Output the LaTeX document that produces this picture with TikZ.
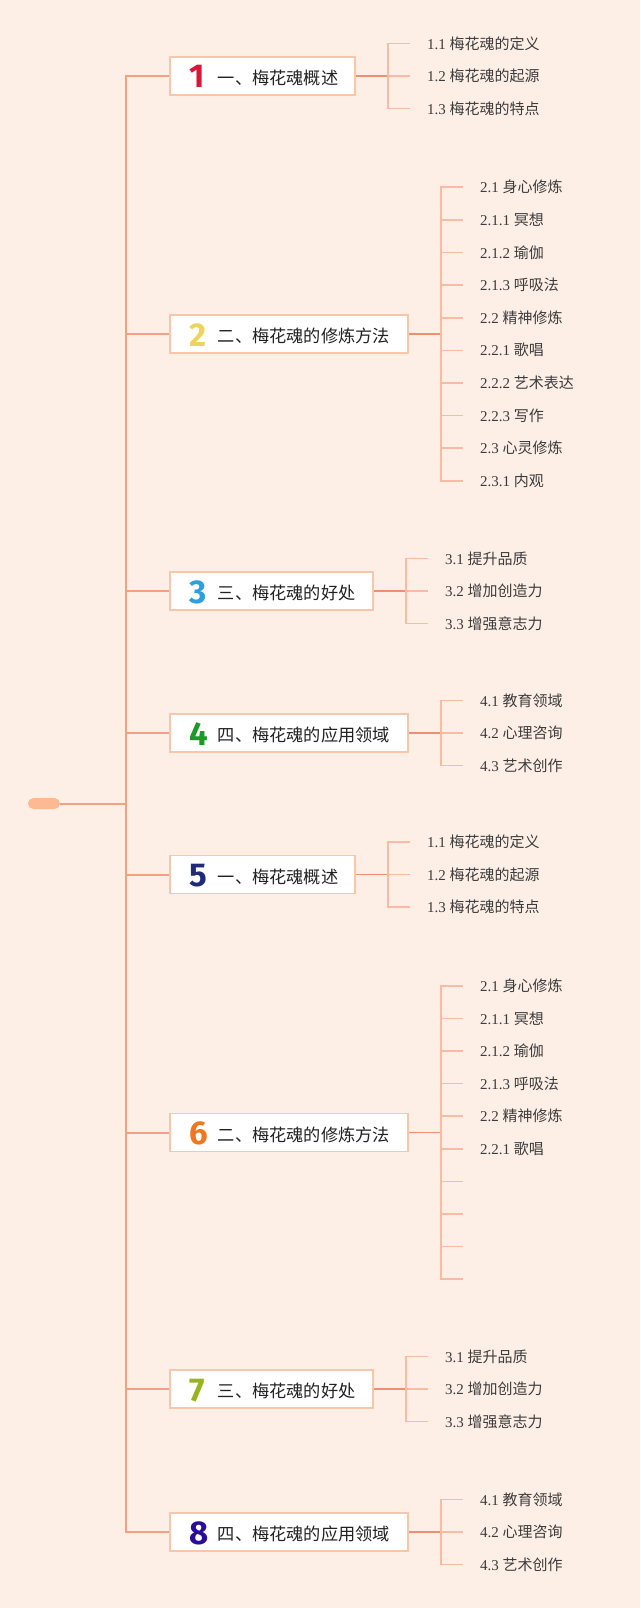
\documentclass[tikz,border=0pt]{standalone}
\usepackage{fontspec}
\usepackage{xcolor}
\usepackage{tikz}
\setmainfont{Liberation Serif}
\newfontfamily\cjk{Noto Sans CJK SC}
\newfontfamily\numfont{Fira Sans}
\definecolor{MMBack}{HTML}{FDEFE6}
\definecolor{MMTrunk}{HTML}{F4A183}
\definecolor{MMLink}{HTML}{F28E70}
\definecolor{MMTick}{HTML}{F9BBA3}
\definecolor{MMBorder}{HTML}{F9C6A8}
\definecolor{MMRoot}{HTML}{FDBA92}
\definecolor{MMText}{HTML}{222222}
\definecolor{MMLeaf}{HTML}{3C3C3C}
\definecolor{NumA}{HTML}{D8173A}
\definecolor{NumB}{HTML}{EED45E}
\definecolor{NumC}{HTML}{2C9FDC}
\definecolor{NumD}{HTML}{1B9A2A}
\definecolor{NumE}{HTML}{1F2A78}
\definecolor{NumF}{HTML}{F2761D}
\definecolor{NumG}{HTML}{97B41C}
\definecolor{NumH}{HTML}{2A0E9A}
\newcommand\tnum[2]{\noindent\hspace*{20pt}\makebox[28pt][l]{\raisebox{-3.5pt}{\numfont\bfseries\fontsize{33}{33}\selectfont\color{#1}#2}}}
\def\gap{32.6}

\begin{document}
\begin{tikzpicture}[x=1pt,y=-1pt,
  trunk/.style={MMTrunk,line width=2pt},
  link/.style={MMLink,line width=1.6pt},
  tick/.style={MMTick,line width=1.6pt},
  topic/.style={draw=MMBorder,line width=1.8pt,fill=white,anchor=west,
    minimum height=38pt,inner xsep=0pt,inner ysep=0pt,align=left,
    text height=23pt,text depth=6pt,
    font=\cjk\fontsize{17.2}{20}\selectfont,text=MMText},
  leaf/.style={anchor=west,inner xsep=17pt,inner ysep=0pt,
    font=\fontsize{15}{18}\selectfont,text=MMLeaf}]
\path[use as bounding box] (0,0) rectangle (640,1608);
\fill[MMBack] (0,0) rectangle (640,1608);

% root and trunk
\node[fill=MMRoot,rounded corners=5.5pt,minimum width=32pt,minimum height=11pt,inner sep=0pt] (root) at (44,803.5) {};
\coordinate (hub) at (126,803.5);

\node[topic,text width=185pt] (t1) at (169,76) {\tnum{NumA}{1}一、梅花魂概述};
\node[topic,text width=238pt] (t2) at (169,334) {\tnum{NumB}{2}二、梅花魂的修炼方法};
\node[topic,text width=203pt] (t3) at (169,591) {\tnum{NumC}{3}三、梅花魂的好处};
\node[topic,text width=238pt] (t4) at (169,733) {\tnum{NumD}{4}四、梅花魂的应用领域};
\node[topic,text width=185pt] (t5) at (169,874.5) {\tnum{NumE}{5}一、梅花魂概述};
\node[topic,text width=238pt] (t6) at (169,1132.5) {\tnum{NumF}{6}二、梅花魂的修炼方法};
\node[topic,text width=203pt] (t7) at (169,1389) {\tnum{NumG}{7}三、梅花魂的好处};
\node[topic,text width=238pt] (t8) at (169,1532) {\tnum{NumH}{8}四、梅花魂的应用领域};

\draw[trunk] (root.east) -- (hub);
\foreach \t in {t1,t2,t3,t4,t5,t6,t7,t8}
  \draw[trunk] (hub) |- (\t.west);

% brackets
\foreach \t/\k in {t1/k1,t2/k2,t3/k3,t4/k4,t5/k5,t6/k6,t7/k7,t8/k8}
  \draw[link] (\t.east) -- ++(32,0) coordinate (\k);

% branch 1 and 5
\foreach \k/\b in {k1/a,k5/e} {
  \node[leaf] (\b1) at ([shift={(22,-\gap)}]\k) {1.1 \cjk 梅花魂的定义};
  \node[leaf] (\b2) at ([shift={(22,0)}]\k) {1.2 \cjk 梅花魂的起源};
  \node[leaf] (\b3) at ([shift={(22,\gap)}]\k) {1.3 \cjk 梅花魂的特点};
  \foreach \n in {1,2,3}
    \draw[tick] (\k) |- (\b\n.west);
}

% branch 2
\foreach \txt [count=\j] in {2.1 \cjk 身心修炼, 2.1.1 \cjk 冥想, 2.1.2 \cjk 瑜伽,
    2.1.3 \cjk 呼吸法, 2.2 \cjk 精神修炼, 2.2.1 \cjk 歌唱, 2.2.2 \cjk 艺术表达,
    2.2.3 \cjk 写作, 2.3 \cjk 心灵修炼, 2.3.1 \cjk 内观} {
  \node[leaf] (b\j) at ([shift={({22},{(\j-5.5)*\gap})}]k2) {\txt};
  \draw[tick] (k2) |- (b\j.west);
}

% branch 6
\foreach \txt [count=\j] in {2.1 \cjk 身心修炼, 2.1.1 \cjk 冥想, 2.1.2 \cjk 瑜伽,
    2.1.3 \cjk 呼吸法, 2.2 \cjk 精神修炼, 2.2.1 \cjk 歌唱, {}, {}, {}, {}} {
  \node[leaf] (f\j) at ([shift={({22},{(\j-5.5)*\gap})}]k6) {\txt};
  \draw[tick] (k6) |- (f\j.west);
}

% branch 3 and 7
\foreach \k/\b in {k3/c,k7/g} {
  \node[leaf] (\b1) at ([shift={(22,-\gap)}]\k) {3.1 \cjk 提升品质};
  \node[leaf] (\b2) at ([shift={(22,0)}]\k) {3.2 \cjk 增加创造力};
  \node[leaf] (\b3) at ([shift={(22,\gap)}]\k) {3.3 \cjk 增强意志力};
  \foreach \n in {1,2,3}
    \draw[tick] (\k) |- (\b\n.west);
}

% branch 4 and 8
\foreach \k/\b in {k4/d,k8/h} {
  \node[leaf] (\b1) at ([shift={(22,-\gap)}]\k) {4.1 \cjk 教育领域};
  \node[leaf] (\b2) at ([shift={(22,0)}]\k) {4.2 \cjk 心理咨询};
  \node[leaf] (\b3) at ([shift={(22,\gap)}]\k) {4.3 \cjk 艺术创作};
  \foreach \n in {1,2,3}
    \draw[tick] (\k) |- (\b\n.west);
}
\end{tikzpicture}
\end{document}
